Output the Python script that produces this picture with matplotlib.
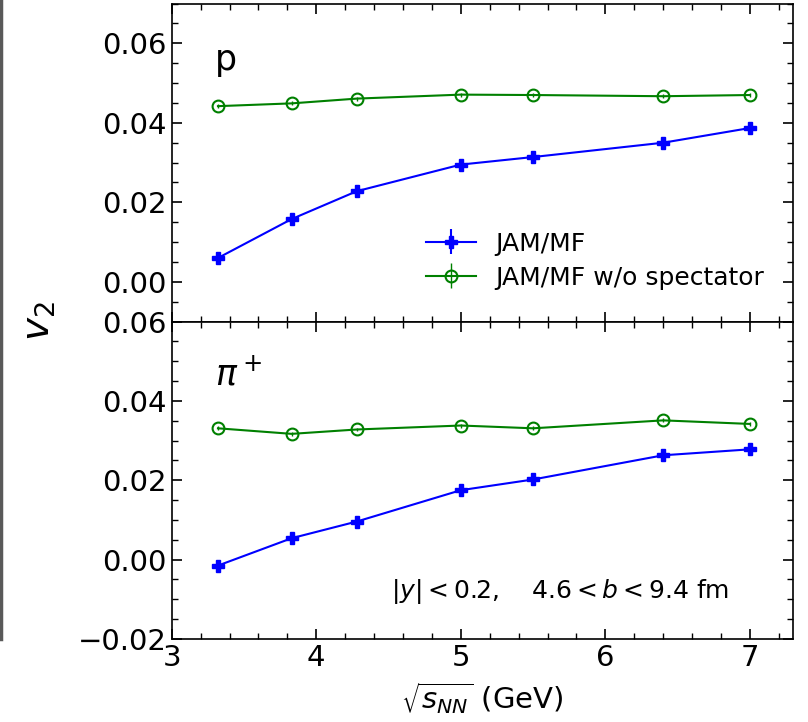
import matplotlib.pyplot as plt
from matplotlib.lines import Line2D
from matplotlib.ticker import MultipleLocator

# collision energies sqrt(s_NN) in GeV
sqrt_s = [3.32, 3.83, 4.28, 5.0, 5.5, 6.4, 7.0]

# protons
p_mf = [0.0060, 0.0158, 0.0228, 0.0295, 0.0314, 0.0350, 0.0387]
p_mf_err = [0.0006, 0.0006, 0.0006, 0.0005, 0.0005, 0.0005, 0.0005]
p_nospec = [0.0442, 0.0449, 0.0461, 0.0471, 0.0470, 0.0467, 0.0470]
p_nospec_err = [0.0005, 0.0005, 0.0005, 0.0005, 0.0005, 0.0005, 0.0005]

# pi+
pi_mf = [-0.0015, 0.0054, 0.0096, 0.0175, 0.0202, 0.0263, 0.0278]
pi_mf_err = [0.0006, 0.0006, 0.0006, 0.0005, 0.0005, 0.0005, 0.0005]
pi_nospec = [0.0331, 0.0317, 0.0328, 0.0338, 0.0331, 0.0351, 0.0342]
pi_nospec_err = [0.0005, 0.0005, 0.0005, 0.0005, 0.0005, 0.0005, 0.0005]

fig = plt.figure(figsize=(8.08, 7.22), dpi=100)
axTop = fig.add_axes([0.2125, 0.5546, 0.7693, 0.4404])
axBot = fig.add_axes([0.2125, 0.1150, 0.7693, 0.4396], sharex=axTop)


def draw_panel(ax, mf, mfErr, nospec, nospecErr):
    ax.errorbar(sqrt_s, mf, yerr=mfErr, color='blue', marker='P', ms=8.5,
                lw=1.5, elinewidth=1.5, label='JAM/MF')
    ax.errorbar(sqrt_s, nospec, yerr=nospecErr, color='green', marker='o',
                ms=8.5, mfc='none', mew=1.5, lw=1.5, elinewidth=1.0,
                label='JAM/MF w/o spectator')
    ax.tick_params(which='both', direction='in', top=True, right=True,
                   labelsize=21)
    ax.tick_params(which='major', length=7, width=1.2)
    ax.tick_params(which='minor', length=4, width=1.0)
    ax.xaxis.set_major_locator(MultipleLocator(1))
    ax.xaxis.set_minor_locator(MultipleLocator(0.2))
    ax.yaxis.set_major_locator(MultipleLocator(0.02))
    ax.yaxis.set_minor_locator(MultipleLocator(0.005))
    for s in ax.spines.values():
        s.set_linewidth(1.2)


draw_panel(axTop, p_mf, p_mf_err, p_nospec, p_nospec_err)
draw_panel(axBot, pi_mf, pi_mf_err, pi_nospec, pi_nospec_err)

axTop.set_xlim(3, 7.3)
axTop.set_ylim(-0.01, 0.07)
axBot.set_ylim(-0.02, 0.06)
axTop.tick_params(labelbottom=False)
axTop.set_yticks([0.0, 0.02, 0.04, 0.06])
axBot.set_yticks([-0.02, 0.0, 0.02, 0.04, 0.06])

axTop.text(0.07, 0.79, 'p', transform=axTop.transAxes, fontsize=25)
axBot.text(0.07, 0.80, r'$\pi^+$', transform=axBot.transAxes, fontsize=25)
axBot.text(0.352, 0.13, r'$|y| < 0.2$,    $4.6 < b < 9.4$ fm',
           transform=axBot.transAxes, fontsize=18)

axTop.legend(loc='lower right', frameon=False, fontsize=18,
             bbox_to_anchor=(0.99, 0.03), handlelength=2.0,
             handletextpad=0.8, labelspacing=0.4)

axBot.set_xlabel(r'$\sqrt{s_{NN}}$ (GeV)', fontsize=21, labelpad=6)
fig.text(0.048, 0.555, r'$v_2$', rotation=90, fontsize=28,
         ha='center', va='center')

# edge of a neighbouring panel at the left border
fig.add_artist(Line2D([0.001, 0.001], [0.115, 1.0], transform=fig.transFigure,
                      color='0.35', lw=2.5))

fig.savefig('out.png', dpi=100)
